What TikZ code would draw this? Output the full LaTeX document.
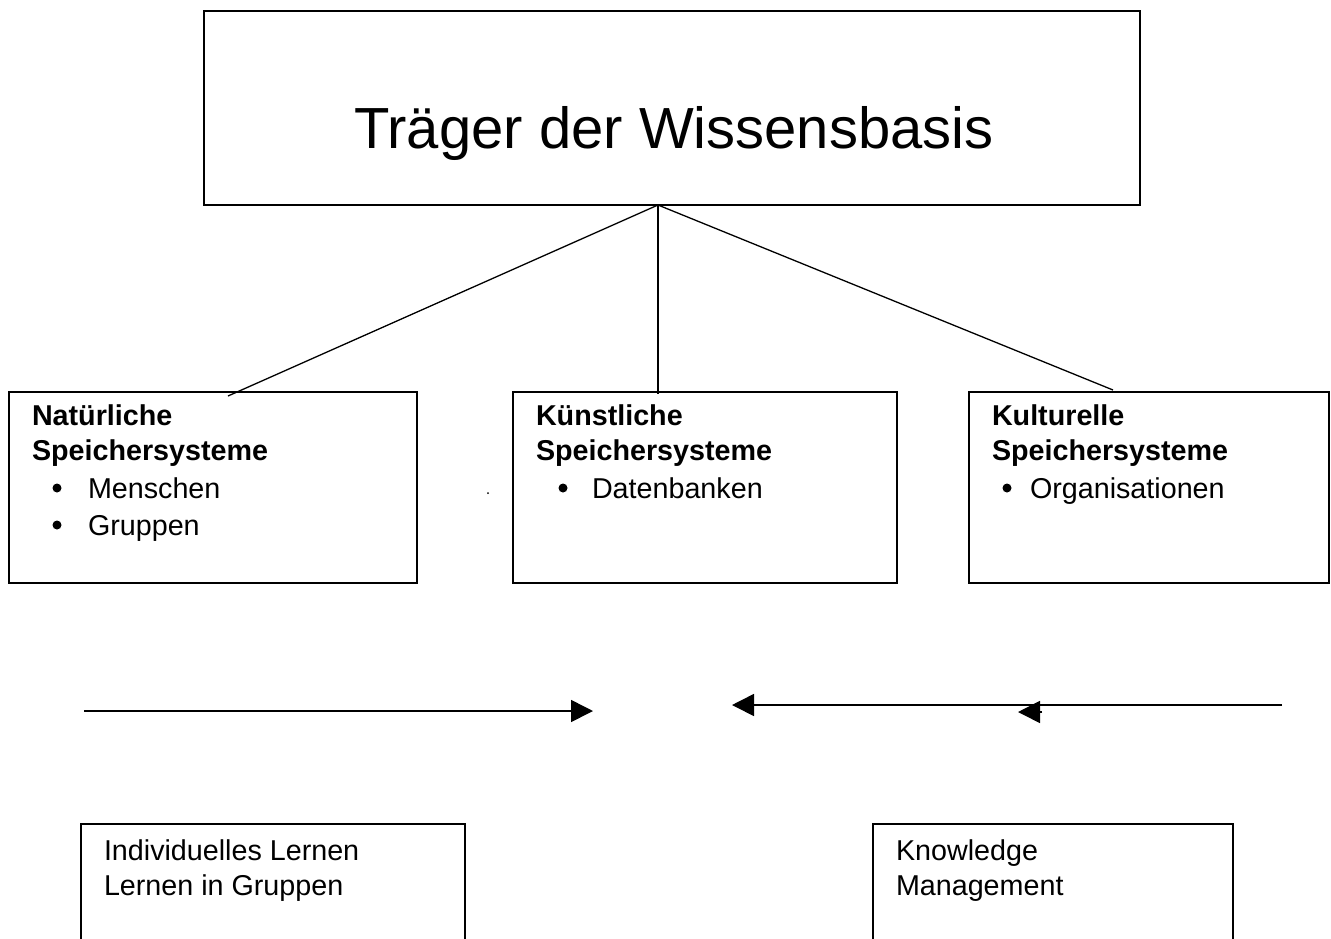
\documentclass[tikz,border=0pt]{standalone}
\usepackage{fontspec}
\setmainfont{Liberation Sans}
\usetikzlibrary{arrows.meta}
\tikzset{
  box/.style={draw, line width=1.5pt, anchor=north west, inner sep=0pt, outer sep=0pt},
  lbl/.style={anchor=base west, inner sep=0pt, outer sep=0pt, font=\fontsize{28.7}{33}\selectfont},
  hdr/.style={lbl, font=\fontsize{28.7}{33}\selectfont\bfseries},
  bul/.style={circle, fill, inner sep=0pt, minimum size=9pt},
  conn/.style={line width=1.3pt},
  arr/.style={line width=1.6pt, -{Triangle[length=22pt,width=22pt]}},
  dotmark/.style={circle, fill, inner sep=0pt, minimum size=2pt}
}
\begin{document}
\begin{tikzpicture}[x=1pt,y=-1pt]
\useasboundingbox (0,0) rectangle (1331,938);
\clip (0,0) rectangle (1331,938);
% top box
\node[box, minimum width=936pt, minimum height=194pt] (top) at (204,11) {};
\node[anchor=base, inner sep=0pt, font=\fontsize{58}{66}\selectfont] (title) at (674,148) {Träger der Wissensbasis};
% three boxes
\node[box, minimum width=408pt, minimum height=191pt] (nat) at (9,392) {};
\node[box, minimum width=384pt, minimum height=191pt] (kun) at (513,392) {};
\node[box, minimum width=360pt, minimum height=191pt] (kul) at (969,392) {};
% texts natural
\node[hdr] (nat1) at (32,425) {Natürliche};
\node[hdr] (nat2) at (32,460) {Speichersysteme};
\node[bul] (natb1) at (57,488) {};
\node[lbl] (natt1) at (88,498) {Menschen};
\node[bul] (natb2) at (57,525) {};
\node[lbl] (natt2) at (88,535) {Gruppen};
% texts kuenstlich
\node[hdr] (kun1) at (536,425) {Künstliche};
\node[hdr] (kun2) at (536,460) {Speichersysteme};
\node[bul] (kunb1) at (563,488) {};
\node[lbl] (kunt1) at (592,498) {Datenbanken};
% texts kulturell
\node[hdr] (kul1) at (992,425) {Kulturelle};
\node[hdr] (kul2) at (992,460) {Speichersysteme};
\node[bul] (kulb1) at (1007,488) {};
\node[lbl] (kult1) at (1030,498) {Organisationen};
% stray dot
\node[dotmark] (sd) at (488,493) {};
% connectors
\coordinate (t0) at (658,205);
\coordinate (n0) at (228,396);
\coordinate (k0) at (658,394);
\coordinate (u0) at (1113,390);
\draw[conn] (t0) -- (n0);
\draw[conn] (t0) -- (k0);
\draw[conn] (t0) -- (u0);
% arrows
\coordinate (a1s) at (84,711);
\coordinate (a1e) at (593,711);
\draw[arr] (a1s) -- (a1e);
\coordinate (a2s) at (1282,705);
\coordinate (a2e) at (732,705);
\draw[arr] (a2s) -- (a2e);
\coordinate (a3s) at (1042,712);
\coordinate (a3e) at (1018,712);
\draw[arr] (a3s) -- (a3e);
% bottom boxes
\node[box, minimum width=384pt, minimum height=130pt] (ind) at (81,824) {};
\node[box, minimum width=360pt, minimum height=130pt] (km) at (873,824) {};
\node[lbl] (ind1) at (104,860) {Individuelles Lernen};
\node[lbl] (ind2) at (104,895) {Lernen in Gruppen};
\node[lbl] (km1) at (896,860) {Knowledge};
\node[lbl] (km2) at (896,895) {Management};
\end{tikzpicture}
\end{document}
